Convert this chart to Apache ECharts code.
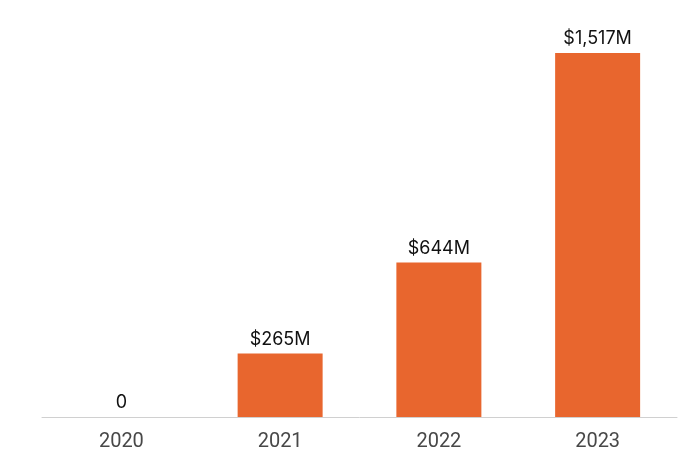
<!DOCTYPE html>
<html>
<head>
<meta charset="utf-8">
<script src="https://cdn.jsdelivr.net/npm/echarts@6/dist/echarts.min.js"></script>
<style>html,body{margin:0;padding:0;background:#fff}#c{width:700px;height:468px}</style>
</head>
<body>
<div id="c"></div>
<script>
const categories = ['2020', '2021', '2022', '2023'];
const values = [0, 265, 644, 1517];

const chart = echarts.init(document.getElementById('c'), null, {renderer: 'canvas'});
chart.setOption({
  animation: false,
  grid: {left: 42, right: 23, top: 53, bottom: 51},
  xAxis: {
    type: 'category',
    data: categories,
    axisLine: {lineStyle: {color: '#d0d0d0', width: 1}},
    axisTick: {show: false},
    axisLabel: {color: '#484848', fontSize: 20, fontFamily: 'Roboto, sans-serif', margin: 15}
  },
  yAxis: {
    type: 'value',
    min: 0,
    max: 1517,
    show: false,
    splitLine: {show: false}
  },
  series: [{
    type: 'bar',
    data: values,
    barWidth: 85,
    itemStyle: {color: '#E8662E'},
    label: {
      show: true,
      position: 'top',
      distance: 5,
      color: '#111111',
      fontSize: 18,
      fontFamily: 'Inter, sans-serif',
      formatter: p => p.value === 0 ? '0' : '$' + p.value.toLocaleString('en-US') + 'M'
    }
  }]
});
</script>
</body>
</html>
